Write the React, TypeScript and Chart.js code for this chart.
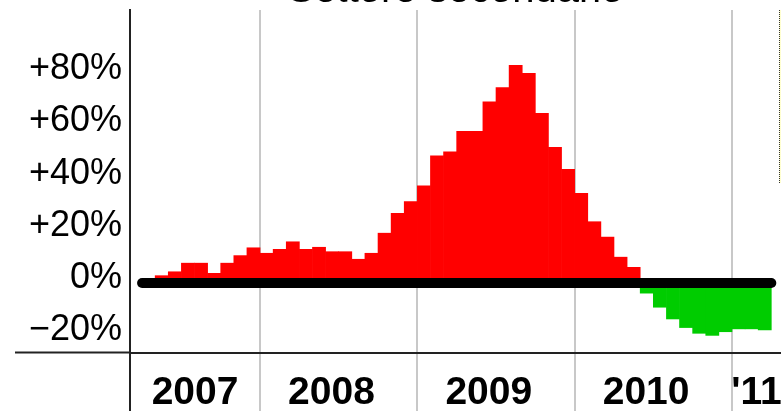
import React, { useEffect, useRef } from 'react';
import { Chart, registerables } from 'chart.js';

Chart.register(...registerables);

// ---- Data (months counted from January 2007 = 0) ----
const TITLE = 'Settore secondario';
const YEAR_LABELS = ['2007', '2008', '2009', '2010', "'11"];
const FIRST_MONTH = 4; // May 2007
const VALUES_2007 = [2.8, 4.3, 7.6, 7.6, 3.7, 7.6, 10.5, 13.5]; // May–Dec
const VALUES_2008 = [11.4, 12.9, 15.8, 12.9, 13.7, 12.0, 12.0, 9.1, 11.4, 19.1, 26.7, 31.2];
const VALUES_2009 = [37.3, 48.8, 50.3, 58.2, 58.2, 69.5, 74.9, 83.5, 80.4, 65.1, 52.0, 43.6];
const VALUES_2010 = [34.4, 23.5, 17.6, 9.9, 6.0, -3.9, -9.3, -13.8, -17.1, -19.3, -20.1, -18.7];
const VALUES_2011 = [-17.6, -17.6, -18.0]; // Jan–Mar
const Y_TICKS = [-20, 0, 20, 40, 60, 80];

// ---- Axis ranges ----
const X_MIN = 2.08;
const X_MAX = 51.74;
const Y_MIN = -49.1;
const Y_MAX = 104.7;
const X_AXIS_AT = -26.7;

const FONT = "'Liberation Sans', Arial, Helvetica, sans-serif";

const fmtPct = (v: number) => {
  if (v > 0) return '+' + v + '%';
  if (v < 0) return '\u2212' + Math.abs(v) + '%';
  return '0%';
};

export default function App() {
  const ref = useRef<HTMLCanvasElement>(null);

  useEffect(() => {
    const values = [...VALUES_2007, ...VALUES_2008, ...VALUES_2009, ...VALUES_2010, ...VALUES_2011];
    const bars = values.map((v, i) => ({ x: FIRST_MONTH + i + 0.5, y: v }));
    const zeroLine = [
      { x: FIRST_MONTH - 1, y: 0 },
      { x: FIRST_MONTH + values.length, y: 0 },
    ];
    const yearBounds = YEAR_LABELS.slice(1).map((_, k) => 12 * (k + 1));
    const labelPos = YEAR_LABELS.map((_, k) => {
      const s = 12 * k;
      const e = s + 12;
      const vs = Math.max(s, X_MIN);
      const ve = Math.min(e, X_MAX);
      const full = vs === s && ve === e;
      return (vs + ve) / 2 - (full ? 0.55 : 0);
    });

    const zeroPads = (s: any) => {
      s.paddingLeft = 0;
      s.paddingRight = 0;
      s.paddingTop = 0;
      s.paddingBottom = 0;
    };

    const chart = new Chart(ref.current as HTMLCanvasElement, {
      type: 'bar',
      data: {
        datasets: [
          {
            type: 'line',
            data: zeroLine,
            borderColor: '#000000',
            borderWidth: 10,
            borderCapStyle: 'round',
            pointRadius: 0,
            fill: false,
            order: 0,
            xAxisID: 'x',
            yAxisID: 'y',
          } as any,
          {
            type: 'bar',
            data: bars,
            backgroundColor: (ctx: any) => {
              const v = ctx.raw ? ctx.raw.y : 0;
              return v >= 0 ? '#ff0000' : '#00cc00';
            },
            borderWidth: 0,
            barPercentage: 1,
            categoryPercentage: 1,
            order: 1,
            xAxisID: 'x',
            yAxisID: 'y',
          } as any,
        ],
      },
      options: {
        animation: false,
        responsive: false,
        devicePixelRatio: 1,
        layout: { padding: 0 },
        parsing: true,
        plugins: {
          legend: { display: false },
          tooltip: { enabled: false },
          title: {
            display: true,
            text: TITLE,
            fullSize: false,
            color: '#000000',
            font: { family: FONT, size: 40, weight: 'normal', lineHeight: 0.95 },
            padding: { top: 0, bottom: 0 },
          },
        },
        scales: {
          x: {
            type: 'linear',
            axis: 'x',
            position: { y: X_AXIS_AT },
            min: X_MIN,
            max: X_MAX,
            offset: false,
            z: 1,
            afterBuildTicks: (s: any) => {
              s.ticks = yearBounds.map((value) => ({ value }));
            },
            afterFit: zeroPads,
            grid: {
              display: true,
              offset: false,
              color: '#c8c8c8',
              lineWidth: 2,
              drawTicks: false,
              drawOnChartArea: true,
            },
            border: { display: true, color: '#222222', width: 2 },
            ticks: { display: false },
          } as any,
          xl: {
            type: 'linear',
            axis: 'x',
            position: { y: X_AXIS_AT },
            min: X_MIN,
            max: X_MAX,
            offset: false,
            afterBuildTicks: (s: any) => {
              s.ticks = labelPos.map((value) => ({ value }));
            },
            afterFit: zeroPads,
            grid: { display: false, offset: false },
            border: { display: false },
            ticks: {
              autoSkip: false,
              maxRotation: 0,
              minRotation: 0,
              padding: 9,
              color: '#000000',
              font: { family: FONT, size: 39, weight: 'bold' },
              callback: (_v: any, i: number) => YEAR_LABELS[i],
            },
          } as any,
          y: {
            type: 'linear',
            position: 'left',
            min: Y_MIN,
            max: Y_MAX,
            afterBuildTicks: (s: any) => {
              s.ticks = [...Y_TICKS, X_AXIS_AT].map((value) => ({ value }));
            },
            afterFit: (s: any) => {
              s.width = 130;
              s.paddingTop = 0;
              s.paddingBottom = 0;
            },
            grid: {
              display: true,
              drawOnChartArea: false,
              drawTicks: true,
              tickLength: 115,
              tickWidth: 2,
              tickColor: (ctx: any) =>
                ctx.tick && ctx.tick.value === X_AXIS_AT ? '#222222' : 'rgba(0,0,0,0)',
            },
            border: { display: true, color: '#222222', width: 2 },
            ticks: {
              autoSkip: false,
              padding: -107,
              labelOffset: -5,
              color: '#000000',
              font: { family: FONT, size: 36 },
              callback: (v: any) => (v === X_AXIS_AT ? '' : fmtPct(Number(v))),
            },
          } as any,
        },
      } as any,
    });

    return () => chart.destroy();
  }, []);

  return (
    <>
      <div style={{ position: 'fixed', left: 0, top: -28, width: 781, height: 439 }}>
        <canvas ref={ref} width={781} height={439} style={{ display: 'block', width: 781, height: 439 }} />
      </div>
      <div
        style={{
          position: 'fixed',
          left: 779,
          top: 10,
          width: 1,
          height: 173,
          background: '#ffffd0',
          borderLeft: '1px dotted #333333',
        }}
      />
    </>
  );
}
